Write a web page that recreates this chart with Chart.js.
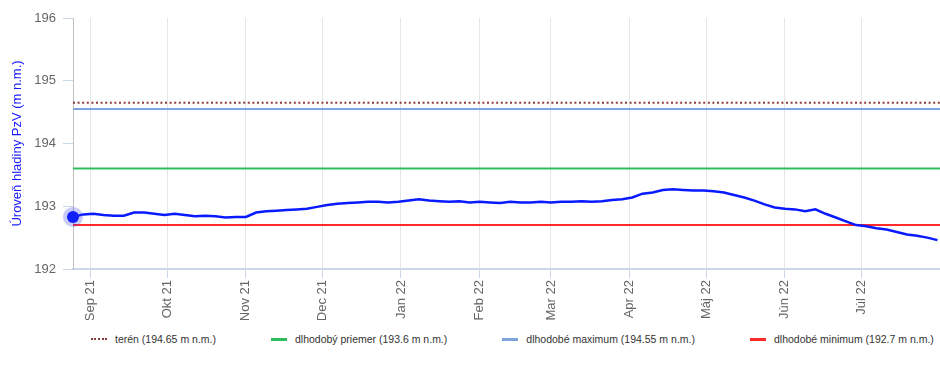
<!DOCTYPE html>
<html>
<head>
<meta charset="utf-8">
<script src="https://cdn.jsdelivr.net/npm/chart.js@4"></script>
<style>
  html, body { margin: 0; padding: 0; background: #fff; }
  #wrap { position: relative; width: 940px; height: 365px; }
  #box { position: absolute; left: 0; top: 0; width: 940px; height: 320px; }
  #legend { position: absolute; left: 91px; top: 333px; display: flex; gap: 55px;
    font: 10.5px "Liberation Sans", Arial, sans-serif; color: #333; }
  #legend .item { display: flex; align-items: center; white-space: nowrap; }
  #legend .sw { width: 16px; height: 0; margin-right: 8px; }
</style>
</head>
<body>
<div id="wrap">
  <div id="box"><canvas id="chart"></canvas></div>
  <div id="legend"></div>
</div>
<script>
// days counted from 25 Aug 2021
const monthDays = [7, 37, 68, 98, 129, 160, 188, 219, 249, 280, 310];
const monthLabels = ['Sep 21', 'Okt 21', 'Nov 21', 'Dec 21', 'Jan 22', 'Feb 22', 'Mar 22', 'Apr 22', 'Máj 22', 'Jún 22', 'Júl 22'];
const lastDay = 341;

const days = [];
for (let d = 0; d <= 340; d += 4) days.push(d);
const levels = [
  192.83, 192.87, 192.88, 192.86, 192.85, 192.85, 192.90, 192.90, 192.88, 192.86,
  192.88, 192.86, 192.84, 192.85, 192.84, 192.82, 192.83, 192.83, 192.90, 192.92,
  192.93, 192.94, 192.95, 192.96, 192.99, 193.02, 193.04, 193.05, 193.06, 193.07,
  193.07, 193.06, 193.07, 193.09, 193.11, 193.09, 193.08, 193.07, 193.08, 193.06,
  193.07, 193.06, 193.05, 193.07, 193.06, 193.06, 193.07, 193.06, 193.07, 193.07,
  193.08, 193.07, 193.08, 193.10, 193.11, 193.14, 193.20, 193.22, 193.26, 193.27,
  193.26, 193.25, 193.25, 193.24, 193.22, 193.18, 193.14, 193.09, 193.03, 192.98,
  192.96, 192.95, 192.92, 192.95, 192.88, 192.82, 192.76, 192.70, 192.68, 192.65,
  192.63, 192.59, 192.55, 192.53, 192.50, 192.46
];

const refNames = ['terén (194.65 m n.m.)', 'dlhodobý priemer (193.6 m n.m.)', 'dlhodobé maximum (194.55 m n.m.)', 'dlhodobé minimum (192.7 m n.m.)'];
const refValues = [194.65, 193.6, 194.55, 192.7];
const refColors = ['#8e3b3b', '#2ebd5c', '#7ea4dc', '#ff2a2a'];
const refDash = [[2, 2.6], [], [], []];

const yTicks = [192, 193, 194, 195, 196];

const refSets = refNames.map((name, i) => ({
  label: name,
  data: [{ x: 0, y: refValues[i] }, { x: lastDay, y: refValues[i] }],
  borderColor: refColors[i],
  borderWidth: 2,
  borderDash: refDash[i],
  pointRadius: 0,
}));

const mainData = days.map((d, i) => ({ x: d, y: levels[i] }));

const chart = new Chart(document.getElementById('chart'), {
  type: 'line',
  data: {
    datasets: [
      {
        label: 'halo',
        data: [mainData[0]],
        pointRadius: 10,
        pointBackgroundColor: 'rgba(40,50,230,0.25)',
        pointBorderWidth: 0,
        showLine: false,
        clip: false,
      },
      {
        label: 'PzV',
        data: mainData,
        borderColor: '#0a1aff',
        borderWidth: 2.5,
        pointRadius: mainData.map((p, i) => i === 0 ? 6 : 0),
        pointBackgroundColor: '#0a1aff',
        pointBorderWidth: 0,
        clip: false,
      },
      ...refSets,
    ],
  },
  options: {
    responsive: true,
    maintainAspectRatio: false,
    animation: false,
    layout: { autoPadding: false, padding: { top: 18, right: 0, left: 0, bottom: 0 } },
    plugins: {
      legend: { display: false },
      tooltip: { enabled: false },
    },
    scales: {
      x: {
        type: 'linear',
        min: 0,
        max: lastDay,
        afterBuildTicks: (axis) => { axis.ticks = monthDays.map(v => ({ value: v })); },
        afterFit: (axis) => { axis.height = 51; axis.paddingRight = 0; axis.paddingLeft = 0; },
        border: { color: '#ccd6eb', width: 2 },
        grid: { color: '#e6e6e6', tickColor: '#ccd6eb', tickLength: 9, lineWidth: 1 },
        ticks: {
          minRotation: 90,
          maxRotation: 90,
          padding: 2,
          color: '#666',
          font: { family: 'Liberation Sans', size: 13 },
          callback: (v) => monthLabels[monthDays.indexOf(v)],
        },
      },
      y: {
        min: 192,
        max: 196,
        afterBuildTicks: (axis) => { axis.ticks = yTicks.map(v => ({ value: v })); },
        afterFit: (axis) => { axis.width = 73; },
        border: { color: '#c0c0c0', width: 1 },
        grid: { drawOnChartArea: false, tickColor: '#ccd6eb', tickLength: 10 },
        ticks: {
          color: '#666',
          padding: 7,
          font: { family: 'Liberation Sans', size: 13 },
        },
        title: {
          display: true,
          text: 'Úroveň hladiny PzV (m n.m.)',
          color: '#1a1aff',
          font: { family: 'Liberation Sans', size: 13 },
          padding: { top: 10, bottom: 4 },
        },
      },
    },
  },
});

// legend built from the reference line arrays
const legend = document.getElementById('legend');
refNames.forEach((name, i) => {
  const item = document.createElement('div');
  item.className = 'item';
  const sw = document.createElement('span');
  sw.className = 'sw';
  sw.style.borderTop = (i === 0 ? '2px dotted ' : '3px solid ') + refColors[i];
  item.appendChild(sw);
  item.appendChild(document.createTextNode(name));
  legend.appendChild(item);
});
</script>
</body>
</html>
